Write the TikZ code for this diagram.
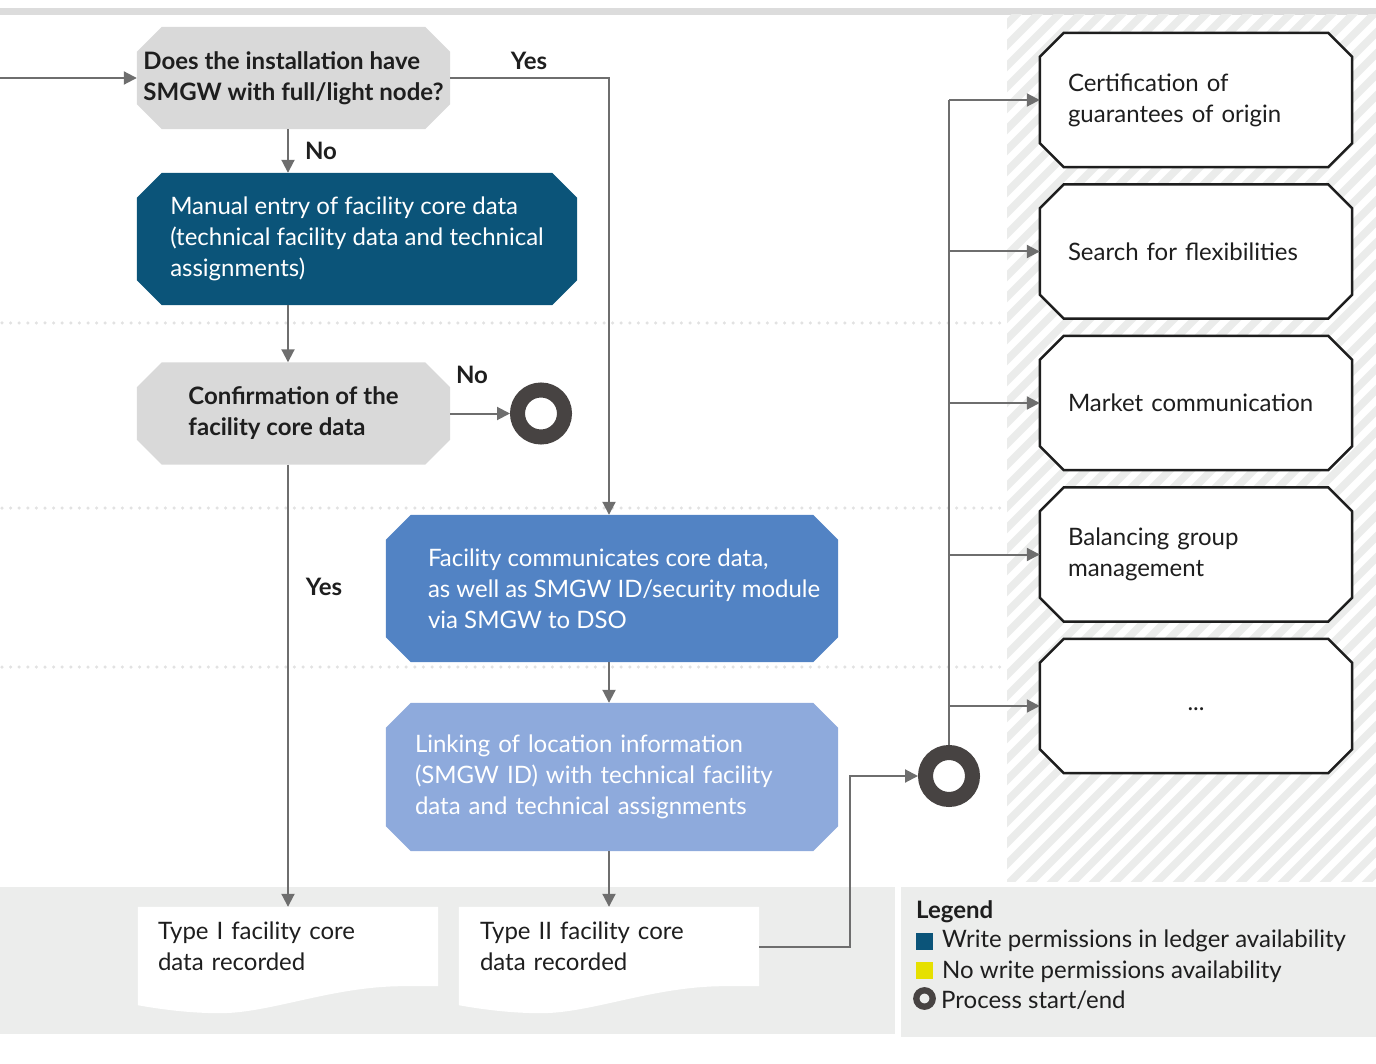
\documentclass[tikz,border=0pt]{standalone}
\usepackage{fontspec}
\setmainfont{Lato}
\usetikzlibrary{arrows.meta,backgrounds,calc}

\definecolor{ink}{HTML}{1E1E1E}
\definecolor{darkblue}{HTML}{0B5479}
\definecolor{midblue}{HTML}{5283C4}
\definecolor{lightblue}{HTML}{8EAADC}
\definecolor{decgray}{HTML}{D9D9D9}
\definecolor{bandgray}{HTML}{ECEDEC}
\definecolor{topbar}{HTML}{DCDCDC}
\definecolor{hatchgray}{HTML}{EBECEB}
\definecolor{dotgray}{HTML}{E2E2E2}
\definecolor{wire}{HTML}{6E6E6E}
\definecolor{ringcol}{HTML}{474342}
\definecolor{legyellow}{HTML}{E6E000}

\tikzset{
  txt/.style={font=\fontsize{24}{31}\selectfont, text=ink},
  boldtxt/.style={font=\fontsize{24}{31}\selectfont\bfseries, text=ink},
  block/.style={txt, rectangle, inner sep=0pt, align=left},
  lefttext/.style={txt, rectangle, inner ysep=0pt, align=left},
  flow/.style={draw=wire, line width=2pt, -{Triangle[length=13pt,width=13pt]}},
  branch/.style={draw=wire, line width=2pt},
  endring/.style={circle, draw=ringcol, line width=15pt, minimum size=47pt, inner sep=0pt, outer sep=7.5pt},
  hatch/.style={draw=hatchgray, line width=7.5pt},
  dotline/.style={draw=dotgray, line width=3.5pt, line cap=round, dash pattern=on 0pt off 8.6pt},
  legsq/.style={rectangle, minimum size=17pt, inner sep=0pt},
  outline/.style={draw=ink, line width=2.5pt, fill=white, line join=miter},
}

% octagonal outline around a named node: style, node, chamfer
\newcommand\octfill[3]{%
  \path[#1] ([xshift=#3]#2.north west) -- ([xshift=-#3]#2.north east)
    -- ([yshift=-#3]#2.north east) -- ([yshift=#3]#2.south east)
    -- ([xshift=-#3]#2.south east) -- ([xshift=#3]#2.south west)
    -- ([yshift=#3]#2.south west) -- ([yshift=-#3]#2.north west) -- cycle;}

% sheet with a wavy lower edge below a named node
\newcommand\docsheet[1]{%
  \path[fill=white] (#1.south east) -- (#1.north east) -- (#1.north west)
    -- ([yshift=-19pt]#1.south west)
    .. controls ([xshift=22pt,yshift=-23pt]#1.south west) and ([xshift=52pt,yshift=-27pt]#1.south west)
    .. ([xshift=82pt,yshift=-27pt]#1.south west)
    .. controls ([xshift=132pt,yshift=-27pt]#1.south west) and ([xshift=192pt,yshift=-1pt]#1.south west)
    .. ([xshift=262pt]#1.south west) -- cycle;}

\begin{document}
\begin{tikzpicture}[x=1pt,y=-1pt]
\useasboundingbox (0,0) rectangle (1376,1064);

% ---------- nodes ----------
\node[block, boldtxt, minimum width=313pt, minimum height=102pt] (q1) at (293.5,78)
  {Does the installation have\\SMGW with full/light node?};
\node[block, text=white, minimum width=440pt, minimum height=132pt] (manual) at (357,239)
  {Manual entry of facility core data\\(technical facility data and technical\\assignments)};
\node[block, boldtxt, minimum width=313pt, minimum height=102pt] (confirm) at (293.5,413.5)
  {Confirmation of the\\facility core data};
\node[block, text=white, minimum width=452pt, minimum height=147pt] (smgw) at (612,588.5)
  {\hspace*{28pt}\parbox{396pt}{\raggedright Facility communicates core data,\\as well as SMGW ID/security module\\via SMGW to DSO}};
\node[lefttext, text=white, inner xsep=29pt, text width=394pt, minimum height=148pt] (link) at (612,777)
  {Linking of location information\\(SMGW ID) with technical facility\\data and technical assignments};

\node[lefttext, inner xsep=20pt, text width=260pt, minimum height=79pt] (doc1) at (288,946.5)
  {Type I facility core\\data recorded};
\node[lefttext, inner xsep=21pt, text width=258pt, minimum height=79pt] (doc2) at (609,946.5)
  {Type II facility core\\data recorded};

\node[endring] (end1) at (541,413.5) {};
\node[endring] (end2) at (949,776) {};

\node[lefttext, inner xsep=28pt, text width=256pt, minimum height=134pt] (use1) at (1196,100)
  {Certification of\\guarantees of origin};
\node[lefttext, inner xsep=28pt, text width=256pt, minimum height=134pt] (use2) at (1196,251.5)
  {Search for flexibilities};
\node[lefttext, inner xsep=28pt, text width=256pt, minimum height=134pt] (use3) at (1196,403)
  {Market communication};
\node[lefttext, inner xsep=28pt, text width=256pt, minimum height=134pt] (use4) at (1196,554.5)
  {Balancing group\\management};
\node[block, minimum width=312pt, minimum height=134pt] (use5) at (1196,706) {\raisebox{-4pt}[0pt][0pt]{...}};

% ---------- backdrop and shapes ----------
\begin{scope}[on background layer]
  \fill[topbar] (0,8) rectangle (1376,15);
  \begin{scope}
    \clip (1007,15) rectangle (1376,881);
    \foreach \i in {0,...,60}
      \draw[hatch] ({141+21*\i},890) -- ++(900,-900);
  \end{scope}
  \fill[bandgray] (0,887) rectangle (895,1034);
  \fill[bandgray] (901,887) rectangle (1376,1037);
  \foreach \yy in {323,508,667}
    \draw[dotline] (2,\yy) -- (1005,\yy);

  \octfill{fill=decgray}{q1}{25pt}
  \octfill{fill=darkblue}{manual}{25pt}
  \octfill{fill=decgray}{confirm}{25pt}
  \octfill{fill=midblue}{smgw}{25pt}
  \octfill{fill=lightblue}{link}{25pt}
  \octfill{outline}{use1}{24pt}
  \octfill{outline}{use2}{24pt}
  \octfill{outline}{use3}{24pt}
  \octfill{outline}{use4}{24pt}
  \octfill{outline}{use5}{24pt}
  \docsheet{doc1}
  \docsheet{doc2}
\end{scope}

% ---------- connectors ----------
\coordinate (entry) at (0,78);
\coordinate (colA) at (288,0);
\coordinate (colB) at (609,0);

\draw[flow] (entry) -- (q1.west);
\draw[flow] (q1.east) -| (smgw.north -| colB);
\draw[flow] (q1.south -| colA) -- (manual.north -| colA);
\draw[flow] (manual.south -| colA) -- (confirm.north -| colA);
\draw[flow] (confirm.east) -- (end1.west);
\draw[flow] (confirm.south -| colA) -- (doc1.north);
\draw[flow] (smgw.south -| colB) -- (link.north -| colB);
\draw[flow] (link.south -| colB) -- (doc2.north);
\draw[flow] (doc2.east) -- ++(91,0) |- (end2.west);

\draw[branch] (end2.north) -- (end2.north |- use1.west);
\foreach \u in {use1,use2,use3,use4,use5}
  \draw[flow] (end2.north |- \u.west) -- (\u.west);

% ---------- branch labels ----------
\node[boldtxt] (yes1) at (529,61) {Yes};
\node[boldtxt] (no1) at (321,151) {No};
\node[boldtxt] (no2) at (472,375) {No};
\node[boldtxt] (yes2) at (324,587) {Yes};

% ---------- legend ----------
\node[boldtxt, anchor=base west, inner sep=0pt] (legtitle) at (916,918) {Legend};
\node[legsq, fill=darkblue] (legsq1) at (924,941) {};
\node[txt, anchor=base west, inner sep=0pt] (legtxt1) at (942,947) {Write permissions in ledger availability};
\node[legsq, fill=legyellow] (legsq2) at (924,970) {};
\node[txt, anchor=base west, inner sep=0pt] (legtxt2) at (942,978) {No write permissions availability};
\node[circle, draw=ringcol, line width=6.3pt, minimum size=16.4pt, inner sep=0pt] (legring) at (924.5,998.5) {};
\node[txt, anchor=base west, inner sep=0pt] (legtxt3) at (941,1008) {Process start/end};
\end{tikzpicture}
\end{document}
